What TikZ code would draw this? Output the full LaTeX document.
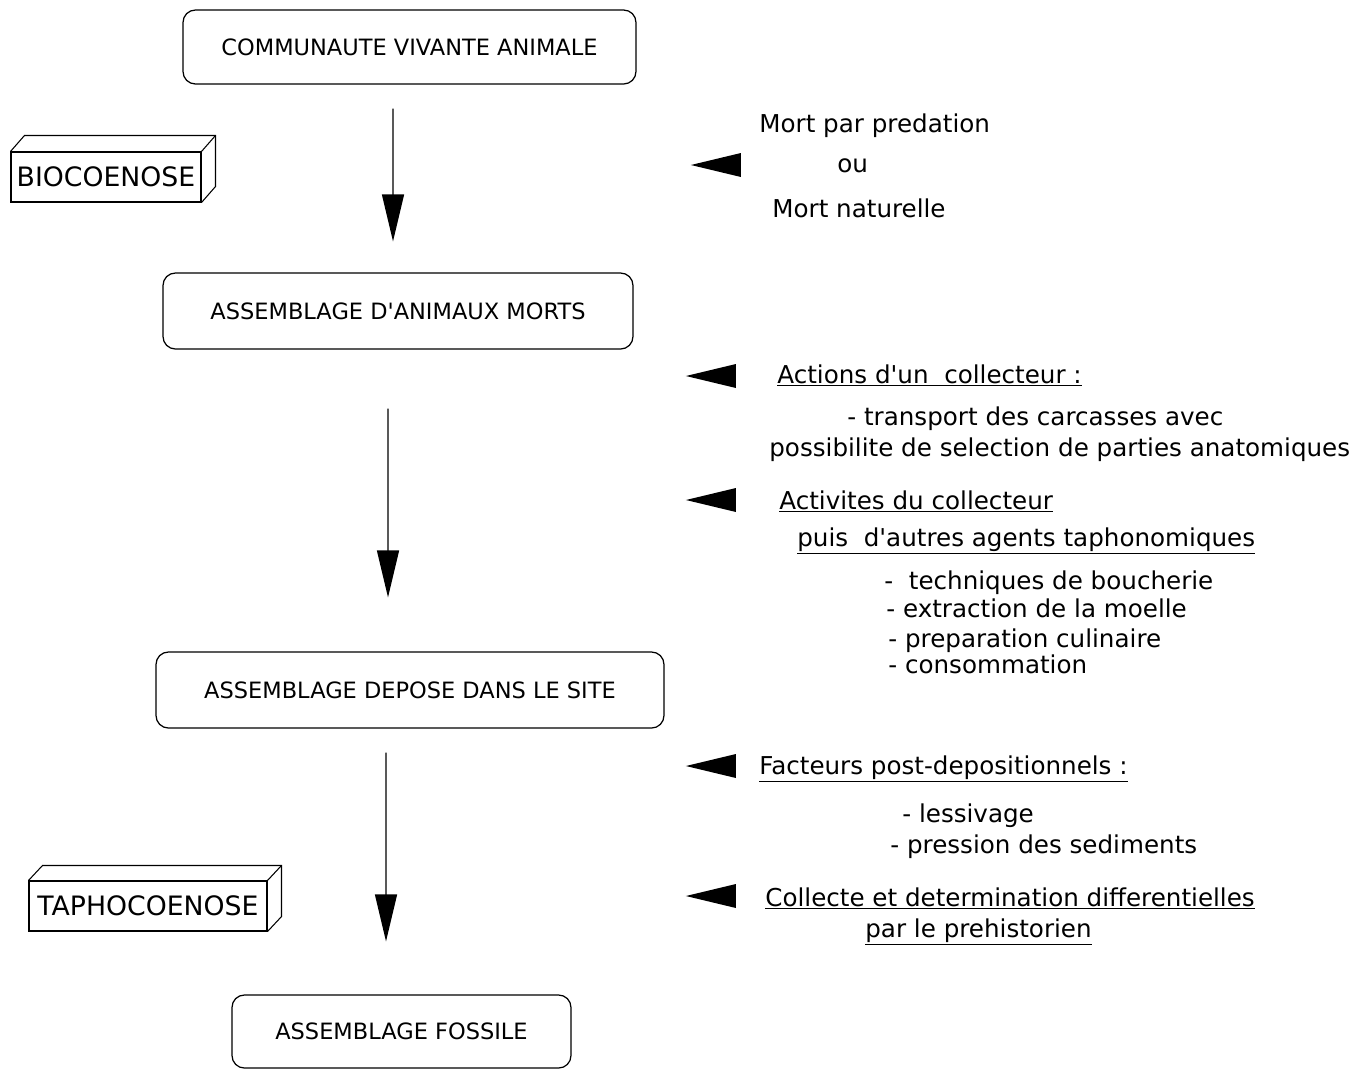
\documentclass[tikz,border=0pt]{standalone}
\usepackage{fontspec}
\setmainfont{DejaVu Sans}
\usetikzlibrary{arrows.meta,positioning,shapes.geometric,calc}

\begin{document}
\begin{tikzpicture}[
    x=0.02cm, y=-0.02cm,
    stage/.style={rectangle, draw, line width=0.7pt, rounded corners=7pt,
                  inner sep=0pt, font=\fontsize{12.8}{15}\selectfont},
    block/.style={rectangle, draw, line width=0.6pt, inner sep=0pt,
                  minimum height=1cm, font=\fontsize{15.2}{17}\selectfont},
    bigarrow/.style={-{Triangle[length=0.94cm, width=0.44cm]}, line width=0.8pt},
    pointer/.style={isosceles triangle, isosceles triangle stretches,
                    shape border rotate=180, fill=black, draw=none,
                    minimum width=0.48cm, minimum height=1cm,
                    inner sep=0pt, anchor=apex},
    note/.style={anchor=base west, inner sep=0pt, font=\fontsize{14}{16}\selectfont}
]
\useasboundingbox (0,0) rectangle (1365,1072);

% stages of the assemblage
\node[stage, minimum width=9.06cm, minimum height=1.48cm] (vivante) at (409.5,47) {COMMUNAUTE VIVANTE ANIMALE};
\node[stage, minimum width=9.4cm, minimum height=1.52cm] (morts) at (398,311) {ASSEMBLAGE D\textquotesingle ANIMAUX MORTS};
\node[stage, minimum width=10.16cm, minimum height=1.52cm] (depose) at (410,690) {ASSEMBLAGE DEPOSE DANS LE SITE};
\node[stage, minimum width=6.78cm, minimum height=1.46cm] (fossile) at (401.5,1031.5) {ASSEMBLAGE FOSSILE};

\draw[bigarrow, shorten <=0.48cm, shorten >=0.62cm] ([xshift=-0.33cm]vivante.south) -- ([xshift=-0.1cm]morts.north);
\draw[bigarrow, shorten <=1.18cm, shorten >=1.08cm] ([xshift=-0.2cm]morts.south) -- ([xshift=-0.44cm]depose.north);
\draw[bigarrow, shorten <=0.48cm, shorten >=1.06cm] ([xshift=-0.48cm]depose.south) -- ([xshift=-0.31cm]fossile.north);

% 3D labels
\node[block, minimum width=3.8cm] (bio) at (106,177) {BIOCOENOSE};
\draw[line width=0.6pt] (bio.north west) -- ++(14,-16) -| ($(bio.south east)+(14,-16)$) -- (bio.south east);
\draw[line width=0.6pt] (bio.north east) -- ++(14,-16);
\node[block, minimum width=4.76cm] (tapho) at (148,906) {TAPHOCOENOSE};
\draw[line width=0.6pt] (tapho.north west) -- ++(14,-15) -| ($(tapho.south east)+(14,-15)$) -- (tapho.south east);
\draw[line width=0.6pt] (tapho.north east) -- ++(14,-15);

% side pointers
\node[pointer] (p1) at (690,165) {};
\node[pointer] (p2) at (685,376) {};
\node[pointer] (p3) at (685,500) {};
\node[pointer] (p4) at (685,766) {};
\node[pointer] (p5) at (685,896) {};

% texts
\node[note] (mort1) at (759,132) {Mort par predation};
\node[note] (ou) at (837,172) {ou};
\node[note] (mort2) at (772,217) {Mort naturelle};

\node[note] (act) at (777,383) {\underline{Actions d\textquotesingle un\ \ collecteur :}};
\node[note] (act1) at (847,425) {- transport des carcasses avec};
\node[note] (act2) at (769,456) {possibilite de selection de parties anatomiques};

\node[note] (acv) at (779,509) {\underline{Activites du collecteur}};
\node[note] (acv0) at (797,546) {\underline{puis\ \ d\textquotesingle autres agents taphonomiques}};
\node[note] (acv1) at (884,589) {-\ \ techniques de boucherie};
\node[note] (acv2) at (886,617) {- extraction de la moelle};
\node[note] (acv3) at (888,647) {- preparation culinaire};
\node[note] (acv4) at (888,673) {- consommation};

\node[note] (fac) at (759,774) {\underline{Facteurs post-depositionnels :}};
\node[note] (fac1) at (902,822) {- lessivage};
\node[note] (fac2) at (890,853) {- pression des sediments};

\node[note] (col) at (765,906) {\underline{Collecte et determination differentielles}};
\node[note] (col1) at (865,937) {\underline{par le prehistorien}};
\end{tikzpicture}
\end{document}
